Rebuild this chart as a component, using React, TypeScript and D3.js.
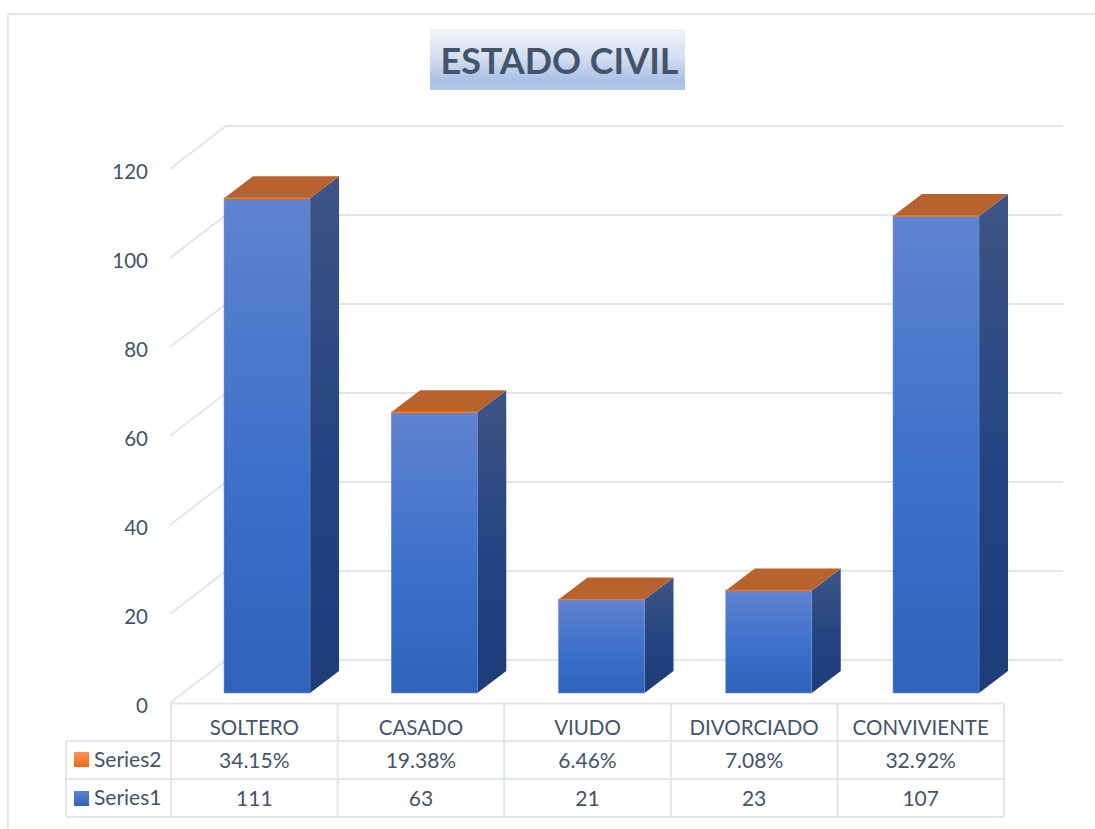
import React from "react";
import * as d3 from "d3";

const categories = ["SOLTERO", "CASADO", "VIUDO", "DIVORCIADO", "CONVIVIENTE"];
const series1 = [111, 63, 21, 23, 107];
const series2 = ["34.15%", "19.38%", "6.46%", "7.08%", "32.92%"];
const yTicks = [0, 20, 40, 60, 80, 100, 120];
const titleText = "ESTADO CIVIL";

const W = 1095, H = 829;
const FONT = "Lato, 'Open Sans', sans-serif";
const TXT = "#44546A", GRID = "#E1E5EC";

const y = d3.scaleLinear().domain([0, 120]).range([703, 169]);
const x = d3.scaleBand<string>().domain(categories).range([171, 1004]);
const FLOOR = { dx: 55, dy: -43 };
const DEPTH = { dx: 29, dy: -22 };
const BAR_W = 86;
const BAR_BASE = 693;
const yBar = d3.scaleLinear().domain([0, 120]).range([BAR_BASE, BAR_BASE - 535]);
const xBar = d3.scaleBand<string>().domain(categories).range([183.4, 1019.65]);
const rows = [703.5, 741, 779, 817];
const line = d3.line();

export default function App() {
  return (
    <svg width={W} height={H} style={{ position: "absolute", left: 0, top: 0 }} fontFamily={FONT}>
      <defs>
        <linearGradient id="front" x1="0" y1="0" x2="0" y2="1">
          <stop offset="0" stopColor="#6083CF" />
          <stop offset="0.55" stopColor="#3C70CA" />
          <stop offset="1" stopColor="#2F62BB" />
        </linearGradient>
        <linearGradient id="side" x1="0" y1="0" x2="0" y2="1">
          <stop offset="0" stopColor="#3E5584" />
          <stop offset="0.55" stopColor="#234482" />
          <stop offset="1" stopColor="#1D3C78" />
        </linearGradient>
        <linearGradient id="title" x1="0" y1="0" x2="0" y2="1">
          <stop offset="0" stopColor="#F1F4FA" />
          <stop offset="0.45" stopColor="#D5DFF1" />
          <stop offset="0.85" stopColor="#A9C0E6" />
          <stop offset="1" stopColor="#B3C7E8" />
        </linearGradient>
        <linearGradient id="lgO" x1="0" y1="0" x2="0" y2="1">
          <stop offset="0" stopColor="#F4945A" />
          <stop offset="1" stopColor="#EE6A12" />
        </linearGradient>
        <linearGradient id="lgB" x1="0" y1="0" x2="0" y2="1">
          <stop offset="0" stopColor="#5F82CF" />
          <stop offset="1" stopColor="#2F62BB" />
        </linearGradient>
      </defs>

      <path d={line([[8, 829], [8, 14], [1095, 14]]) ?? ""} fill="none" stroke={GRID} strokeWidth={1.8} />

      <rect x={430} y={29} width={255} height={61} fill="url(#title)" />
      <text x={559.5} y={74} textAnchor="middle" fontSize={37} fontWeight={700} fill={TXT} textLength={238} lengthAdjust="spacingAndGlyphs">{titleText}</text>

      {yTicks.map((t) => {
        const yf = y(t), xb = 171 + FLOOR.dx, yb = yf + FLOOR.dy;
        return (
          <g key={t}>
            <path d={line([[170, yf], [xb, yb], [1063, yb]]) ?? ""} fill="none" stroke={GRID} strokeWidth={2} />
            <text x={148} y={yf + 10} textAnchor="end" fontSize={20.5} fill={TXT}>{t}</text>
          </g>
        );
      })}

      {categories.map((c, i) => {
        const left = (xBar(c) ?? 0) + xBar.bandwidth() / 2 - BAR_W / 2;
        const right = left + BAR_W;
        const top = yBar(series1[i]);
        const { dx, dy } = DEPTH;
        return (
          <g key={c}>
            <path d={line([[right, top], [right + dx, top + dy], [right + dx, BAR_BASE + dy], [right, BAR_BASE]]) + "Z"} fill="url(#side)" />
            <path d={line([[left, top], [left + dx, top + dy], [right + dx, top + dy], [right, top]]) + "Z"} fill="#B8622D" />
            <rect x={left} y={top} width={BAR_W} height={BAR_BASE - top} fill="url(#front)" stroke="#6E8FD6" strokeWidth={0.6} />
            <line x1={left} x2={right} y1={top} y2={top} stroke="#DE7D42" strokeWidth={1.5} />
          </g>
        );
      })}

      <g stroke={GRID} strokeWidth={2} fill="none">
        <line x1={171} x2={1004} y1={rows[0]} y2={rows[0]} />
        <line x1={66} x2={1004} y1={rows[1]} y2={rows[1]} />
        <line x1={66} x2={1004} y1={rows[2]} y2={rows[2]} />
        <line x1={66} x2={1004} y1={rows[3]} y2={rows[3]} />
        <line x1={66} x2={66} y1={rows[1]} y2={rows[3]} />
        {[...categories.map((c) => x(c) ?? 0), 1004].map((v) => (
          <line key={v} x1={v} x2={v} y1={rows[0]} y2={rows[3]} />
        ))}
      </g>

      {categories.map((c, i) => {
        const cx = (x(c) ?? 0) + x.bandwidth() / 2;
        return (
          <g key={c} fontSize={20.5} fill={TXT} textAnchor="middle">
            <text x={cx} y={735}>{c}</text>
            <text x={cx} y={767.5} fontSize={21}>{series2[i]}</text>
            <text x={cx} y={805.5} fontSize={21}>{series1[i]}</text>
          </g>
        );
      })}

      <rect x={74} y={752} width={15} height={15} fill="url(#lgO)" />
      <text x={94} y={767} fontSize={21} fill={TXT}>Series2</text>
      <rect x={74} y={791} width={15} height={15} fill="url(#lgB)" />
      <text x={94} y={805} fontSize={21} fill={TXT}>Series1</text>
    </svg>
  );
}
